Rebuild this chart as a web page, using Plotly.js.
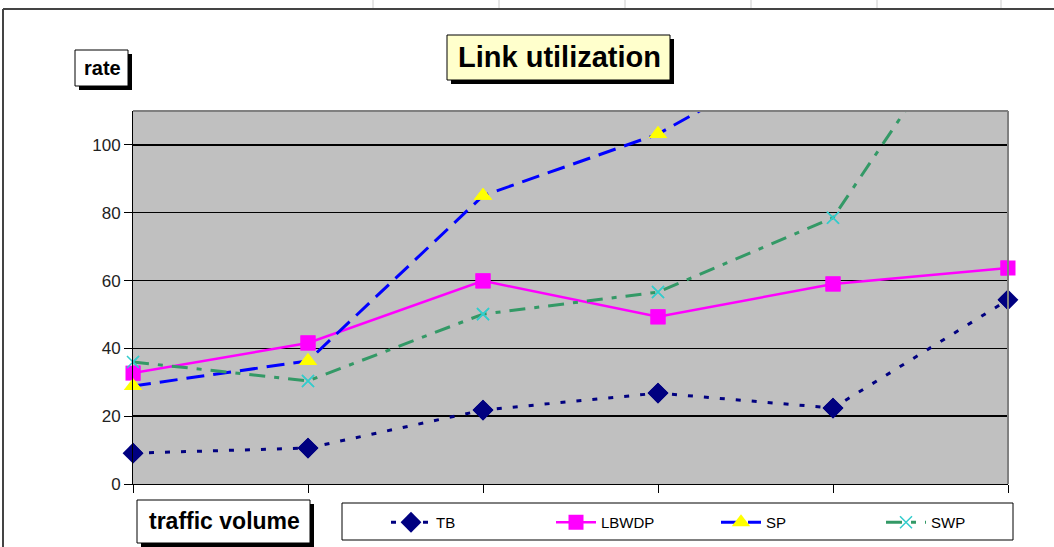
<!DOCTYPE html>
<html><head><meta charset="utf-8">
<script src="https://cdn.plot.ly/plotly-3.0.1.min.js"></script>
<style>html,body{margin:0;padding:0;background:#fff;}#chart{width:1054px;height:547px;}</style>
</head><body><div id="chart"></div>
<script>
const trafficVolume = [1, 2, 3, 4, 5, 6];
const seriesNames = ["TB", "LBWDP", "SP", "SWP"];
const tbValues    = [9.1, 10.6, 21.8, 26.8, 22.4, 54.3];
const lbwdpValues = [32.7, 41.6, 59.9, 49.3, 59.0, 63.7];
const spValues    = [28.9, 36.3, 85.0, 103.2, 132, 150];
const swpValues   = [36.0, 30.4, 50.1, 56.6, 78.5, 155];
const yTicks = [0, 20, 40, 60, 80, 100];
const yMax = 110;

const W = 1054, H = 547;
const L = 133, R = 1008, T = 111, B = 484;
const px = x => (x - L) / (R - L);
const py = y => (B - y) / (B - T);
const font = "Liberation Sans, Arial, sans-serif";

function box(x0, y0, x1, y1, fill, shadow) {
  const out = [];
  if (shadow) out.push({type:'rect', xref:'paper', yref:'paper', x0:px(x0+4), x1:px(x1+4), y0:py(y0+4), y1:py(y1+4),
     fillcolor:'#000', line:{width:0}, layer:'above'});
  out.push({type:'rect', xref:'paper', yref:'paper', x0:px(x0), x1:px(x1), y0:py(y0), y1:py(y1),
     fillcolor:fill, line:{color:'#000', width:1}, layer:'above'});
  return out;
}

const styles = [
  {line: {color: '#000080', width: 3, dash: '5px,11px'},
   marker: {symbol: 'diamond', size: 16, color: '#000080'}},
  {line: {color: '#FF00FF', width: 2.5},
   marker: {symbol: 'square', size: 15, color: '#FF00FF'}},
  {line: {color: '#0000FF', width: 3, dash: '18px,9px'},
   marker: {symbol: 'triangle-up', size: 16, color: '#FFFF00'}},
  {line: {color: '#339966', width: 3, dash: '16px,9px,5px,9px'},
   marker: {symbol: 'x-thin', size: 12, color: '#33CCCC', line: {color: '#33CCCC', width: 1.5}}}
];
const allValues = [tbValues, lbwdpValues, spValues, swpValues];

const traces = [];
allValues.forEach((vals, i) => {
  traces.push({x: trafficVolume, y: vals, name: seriesNames[i], mode: 'lines+markers',
    line: styles[i].line, marker: styles[i].marker, legendrank: i + 1});
});
// markers drawn unclipped at the plot edges (only points inside the axis range)
allValues.forEach((vals, i) => {
  traces.push({x: trafficVolume, y: vals.map(v => v <= yMax ? v : null), mode: 'markers',
    marker: styles[i].marker, cliponaxis: false, showlegend: false, hoverinfo: 'skip'});
});

let shapes = [];
shapes.push({type:'line', xref:'paper', yref:'paper', x0:0, x1:1, y0:1, y1:1, line:{color:'#808080', width:2}});
shapes.push({type:'line', xref:'paper', yref:'paper', x0:1, x1:1, y0:0, y1:1, line:{color:'#808080', width:2}});
shapes.push({type:'line', xref:'paper', yref:'paper', x0:px(3), x1:px(1054), y0:py(9), y1:py(9), line:{color:'#444', width:2}});
shapes.push({type:'line', xref:'paper', yref:'paper', x0:px(3), x1:px(3), y0:py(9), y1:py(547), line:{color:'#444', width:2}});
[373, 499, 625, 751, 877, 1001].forEach(x => shapes.push({type:'line', xref:'paper', yref:'paper',
  x0:px(x), x1:px(x), y0:py(0), y1:py(8), line:{color:'#ccc', width:1}}));
shapes = shapes.concat(box(447, 35, 670, 80, '#FFFFCC', true));
shapes = shapes.concat(box(75, 50, 128, 86, '#FFFFFF', true));
shapes = shapes.concat(box(137, 500, 310, 543, '#FFFFFF', true));
shapes = shapes.concat(box(342, 503, 1013, 540, '#FFFFFF', false));

const annotations = [
  {xref:'paper', yref:'paper', x:px(559), y:py(57), text:'<b>Link utilization</b>', showarrow:false,
   font:{family:font, size:29, color:'#000'}, xanchor:'center', yanchor:'middle'},
  {xref:'paper', yref:'paper', x:px(102), y:py(68), text:'<b>rate</b>', showarrow:false,
   font:{family:font, size:20, color:'#000'}, xanchor:'center', yanchor:'middle'},
  {xref:'paper', yref:'paper', x:px(224), y:py(521), text:'<b>traffic volume</b>', showarrow:false,
   font:{family:font, size:23, color:'#000'}, xanchor:'center', yanchor:'middle'}
];

const layout = {
  width: W, height: H,
  margin: {l: L, r: W - R, t: T, b: H - B, pad: 0},
  paper_bgcolor: '#FFFFFF', plot_bgcolor: '#C0C0C0',
  showlegend: true,
  legend: {orientation: 'h', xref: 'container', yref: 'container', x: 386 / W, y: 1 - 506 / H,
    xanchor: 'left', yanchor: 'top',
    bgcolor: 'rgba(0,0,0,0)', borderwidth: 0, entrywidth: 110, entrywidthmode: 'pixels',
    font: {family: font, size: 15, color: '#000'}, traceorder: 'normal', itemwidth: 40},
  xaxis: {range: [1, 6], tickvals: trafficVolume, showticklabels: false, ticks: 'outside', ticklen: 8,
    tickcolor: '#000', showline: true, linecolor: '#000', linewidth: 1, showgrid: false, zeroline: false, fixedrange: true},
  yaxis: {range: [0, yMax], tickvals: yTicks, ticks: 'outside', ticklen: 8, tickcolor: '#000',
    showline: true, linecolor: '#000', linewidth: 1, showgrid: true, gridcolor: '#000', gridwidth: 1.5,
    zeroline: false, tickfont: {family: font, size: 17, color: '#222'}, fixedrange: true},
  shapes: shapes,
  annotations: annotations
};

Plotly.newPlot('chart', traces, layout, {displayModeBar: false, staticPlot: true});
</script></body></html>
